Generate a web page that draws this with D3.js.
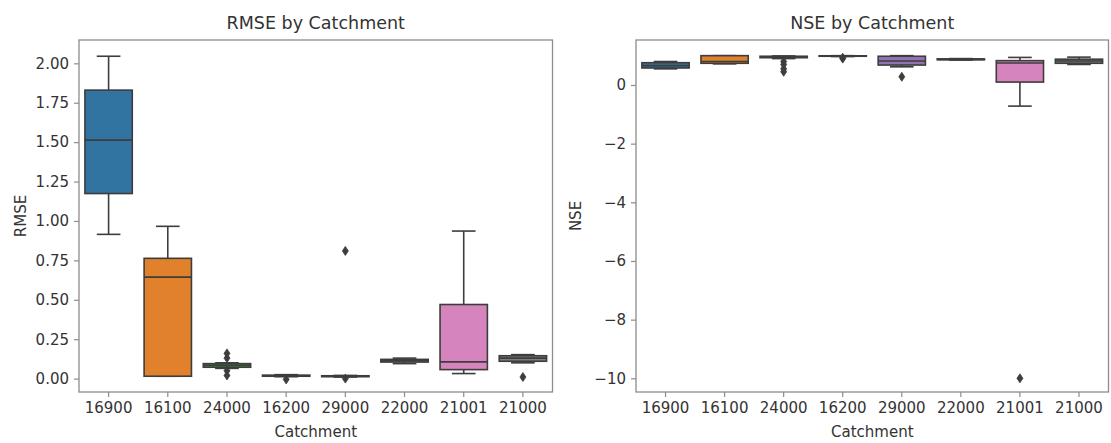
<!DOCTYPE html>
<html>
<head>
<meta charset="utf-8">
<script src="https://cdn.jsdelivr.net/npm/d3@7"></script>
<style>
  html, body { margin: 0; padding: 0; background: #fff; }
  svg { display: block; }
  text { font-family: "DejaVu Sans", sans-serif; fill: #333; }
</style>
</head>
<body>
<svg id="chart" width="1111" height="443"></svg>
<script>
const categories = ["16900","16100","24000","16200","29000","22000","21001","21000"];
const palette = ["#3274a1","#e1812c","#3a923a","#c03d3e","#9372b2","#845b53","#d684bd","#7f7f7f"];

// RMSE box statistics per catchment
const rmseLow  = [0.915, 0.015, 0.065, 0.012, 0.010, 0.095, 0.032, 0.100];
const rmseQ1   = [1.174, 0.015, 0.072, 0.015, 0.012, 0.105, 0.057, 0.110];
const rmseMed  = [1.513, 0.644, 0.085, 0.018, 0.015, 0.115, 0.106, 0.130];
const rmseQ3   = [1.830, 0.763, 0.095, 0.022, 0.018, 0.122, 0.470, 0.145];
const rmseHigh = [2.045, 0.966, 0.100, 0.025, 0.020, 0.130, 0.936, 0.152];
const rmseOut  = [[], [], [0.16, 0.13, 0.05, 0.02], [-0.005], [0.81, 0.0], [], [], [0.01]];
const rmseTicks = [0, 0.25, 0.5, 0.75, 1.0, 1.25, 1.5, 1.75, 2.0];

// NSE box statistics per catchment
const nseLow  = [0.55, 0.72, 0.90, 0.97, 0.62, 0.85, -0.72, 0.70];
const nseQ1   = [0.58, 0.74, 0.93, 0.98, 0.68, 0.86, 0.10, 0.74];
const nseMed  = [0.66, 0.80, 0.96, 0.99, 0.82, 0.875, 0.75, 0.82];
const nseQ3   = [0.76, 1.00, 0.98, 0.995, 0.98, 0.89, 0.83, 0.88];
const nseHigh = [0.80, 1.00, 0.99, 1.00, 1.00, 0.90, 0.94, 0.95];
const nseOut  = [[], [], [0.80, 0.70, 0.55, 0.45], [0.90, 0.93], [0.28], [], [-10.0], []];
const nseTicks = [-10, -8, -6, -4, -2, 0];

const svg = d3.select("#chart");
const lineColor = "#3d3d3d";
const frameColor = "#8c8c8c";
const lw = 1.6;

function panel(opts) {
  const {x0, x1, y0, y1, domain, ticks, fmt, title, ylabel, ylabelX,
         low, q1, med, q3, high, out} = opts;
  const g = svg.append("g");
  const x = d3.scaleBand().domain(categories).range([x0, x1]).padding(0);
  const y = d3.scaleLinear().domain(domain).range([y1, y0]);
  const bw = x.bandwidth() * 0.8;

  categories.forEach((c, i) => {
    const cx = x(c) + x.bandwidth() / 2;
    const bg = g.append("g");
    bg.append("line").attr("x1", cx).attr("x2", cx).attr("y1", y(q3[i])).attr("y2", y(high[i]))
      .attr("stroke", lineColor).attr("stroke-width", lw);
    bg.append("line").attr("x1", cx).attr("x2", cx).attr("y1", y(q1[i])).attr("y2", y(low[i]))
      .attr("stroke", lineColor).attr("stroke-width", lw);
    [low[i], high[i]].forEach(v => {
      bg.append("line").attr("x1", cx - bw / 4).attr("x2", cx + bw / 4)
        .attr("y1", y(v)).attr("y2", y(v))
        .attr("stroke", lineColor).attr("stroke-width", lw);
    });
    bg.append("rect").attr("x", cx - bw / 2).attr("width", bw)
      .attr("y", y(q3[i])).attr("height", Math.max(0.01, y(q1[i]) - y(q3[i])))
      .attr("fill", palette[i]).attr("stroke", lineColor).attr("stroke-width", lw);
    bg.append("line").attr("x1", cx - bw / 2).attr("x2", cx + bw / 2)
      .attr("y1", y(med[i])).attr("y2", y(med[i]))
      .attr("stroke", lineColor).attr("stroke-width", lw);
    out[i].forEach(v => {
      const py = y(v);
      bg.append("path")
        .attr("d", `M${cx},${py - 4.5}L${cx + 3},${py}L${cx},${py + 4.5}L${cx - 3},${py}Z`)
        .attr("fill", lineColor).attr("stroke", lineColor).attr("stroke-width", 0.8);
    });
  });

  g.append("rect").attr("x", x0).attr("y", y0).attr("width", x1 - x0).attr("height", y1 - y0)
    .attr("fill", "none").attr("stroke", frameColor).attr("stroke-width", 1.3);

  const ya = g.append("g").attr("transform", `translate(${x0},0)`)
    .call(d3.axisLeft(y).tickValues(ticks).tickFormat(fmt).tickSize(5).tickPadding(5));
  ya.select(".domain").remove();
  ya.selectAll(".tick line").attr("stroke", frameColor).attr("stroke-width", 1.2);
  ya.selectAll(".tick text").style("font-size", "15px").style("font-family", "DejaVu Sans").attr("fill", "#333");

  const xa = g.append("g").attr("transform", `translate(0,${y1})`)
    .call(d3.axisBottom(x).tickSize(5).tickPadding(5));
  xa.select(".domain").remove();
  xa.selectAll(".tick line").attr("stroke", frameColor).attr("stroke-width", 1.2);
  xa.selectAll(".tick text").style("font-size", "15px").style("font-family", "DejaVu Sans").attr("fill", "#333");

  g.append("text").attr("x", (x0 + x1) / 2).attr("y", 29).attr("text-anchor", "middle")
    .style("font-size", "17.5px").text(title);
  g.append("text").attr("x", (x0 + x1) / 2).attr("y", 437).attr("text-anchor", "middle")
    .style("font-size", "15px").text("Catchment");
  g.append("text").attr("transform", `translate(${ylabelX},${(y0 + y1) / 2}) rotate(-90)`)
    .attr("text-anchor", "middle").attr("dy", "0.35em")
    .style("font-size", "15px").text(ylabel);
}

panel({x0: 79, x1: 552.5, y0: 40, y1: 392, domain: [-0.085, 2.148], ticks: rmseTicks,
       fmt: d3.format(".2f"), title: "RMSE by Catchment", ylabel: "RMSE", ylabelX: 21,
       low: rmseLow, q1: rmseQ1, med: rmseMed, q3: rmseQ3, high: rmseHigh, out: rmseOut});

panel({x0: 636, x1: 1108.5, y0: 40, y1: 392, domain: [-10.467, 1.534], ticks: nseTicks,
       fmt: d => d3.format("d")(d).replace("-", "\u2212"), title: "NSE by Catchment", ylabel: "NSE", ylabelX: 576,
       low: nseLow, q1: nseQ1, med: nseMed, q3: nseQ3, high: nseHigh, out: nseOut});
</script>
</body>
</html>
